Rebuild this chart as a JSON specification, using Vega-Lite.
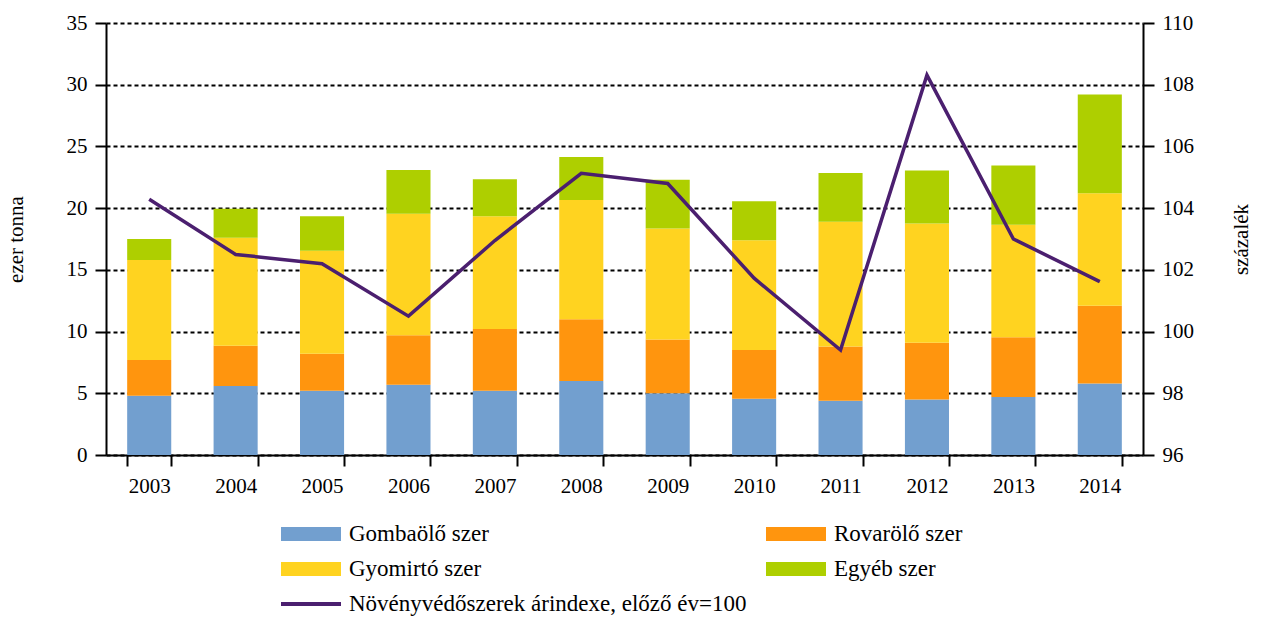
{
  "$schema": "https://vega.github.io/schema/vega-lite/v6.json",
  "autosize": {"type": "none"},
  "padding": {"left": 106, "top": 23, "right": 118, "bottom": 162},
  "width": 1037,
  "height": 432,
  "background": "white",
  "config": {
    "view": {"stroke": null},
    "font": "Times New Roman",
    "axis": {
      "labelFont": "Times New Roman",
      "titleFont": "Times New Roman",
      "labelFontSize": 21,
      "titleFontSize": 21,
      "titleFontWeight": "normal",
      "labelColor": "black",
      "titleColor": "black",
      "domainColor": "black",
      "domainWidth": 2,
      "tickColor": "black",
      "tickWidth": 2,
      "tickSize": 11
    }
  },
  "layer": [
    {
      "data": {
        "values": [
          {"year": "2003", "type": "Gombaölő szer", "rank": 1, "value": 4.8},
          {"year": "2003", "type": "Rovarölő szer", "rank": 2, "value": 2.9},
          {"year": "2003", "type": "Gyomirtó szer", "rank": 3, "value": 8.1},
          {"year": "2003", "type": "Egyéb szer", "rank": 4, "value": 1.7},
          {"year": "2004", "type": "Gombaölő szer", "rank": 1, "value": 5.6},
          {"year": "2004", "type": "Rovarölő szer", "rank": 2, "value": 3.25},
          {"year": "2004", "type": "Gyomirtó szer", "rank": 3, "value": 8.75},
          {"year": "2004", "type": "Egyéb szer", "rank": 4, "value": 2.35},
          {"year": "2005", "type": "Gombaölő szer", "rank": 1, "value": 5.2},
          {"year": "2005", "type": "Rovarölő szer", "rank": 2, "value": 3.0},
          {"year": "2005", "type": "Gyomirtó szer", "rank": 3, "value": 8.35},
          {"year": "2005", "type": "Egyéb szer", "rank": 4, "value": 2.8},
          {"year": "2006", "type": "Gombaölő szer", "rank": 1, "value": 5.7},
          {"year": "2006", "type": "Rovarölő szer", "rank": 2, "value": 4.0},
          {"year": "2006", "type": "Gyomirtó szer", "rank": 3, "value": 9.85},
          {"year": "2006", "type": "Egyéb szer", "rank": 4, "value": 3.55},
          {"year": "2007", "type": "Gombaölő szer", "rank": 1, "value": 5.2},
          {"year": "2007", "type": "Rovarölő szer", "rank": 2, "value": 5.0},
          {"year": "2007", "type": "Gyomirtó szer", "rank": 3, "value": 9.15},
          {"year": "2007", "type": "Egyéb szer", "rank": 4, "value": 3.0},
          {"year": "2008", "type": "Gombaölő szer", "rank": 1, "value": 6.0},
          {"year": "2008", "type": "Rovarölő szer", "rank": 2, "value": 5.0},
          {"year": "2008", "type": "Gyomirtó szer", "rank": 3, "value": 9.65},
          {"year": "2008", "type": "Egyéb szer", "rank": 4, "value": 3.5},
          {"year": "2009", "type": "Gombaölő szer", "rank": 1, "value": 5.0},
          {"year": "2009", "type": "Rovarölő szer", "rank": 2, "value": 4.35},
          {"year": "2009", "type": "Gyomirtó szer", "rank": 3, "value": 9.0},
          {"year": "2009", "type": "Egyéb szer", "rank": 4, "value": 3.95},
          {"year": "2010", "type": "Gombaölő szer", "rank": 1, "value": 4.55},
          {"year": "2010", "type": "Rovarölő szer", "rank": 2, "value": 3.95},
          {"year": "2010", "type": "Gyomirtó szer", "rank": 3, "value": 8.9},
          {"year": "2010", "type": "Egyéb szer", "rank": 4, "value": 3.15},
          {"year": "2011", "type": "Gombaölő szer", "rank": 1, "value": 4.4},
          {"year": "2011", "type": "Rovarölő szer", "rank": 2, "value": 4.4},
          {"year": "2011", "type": "Gyomirtó szer", "rank": 3, "value": 10.1},
          {"year": "2011", "type": "Egyéb szer", "rank": 4, "value": 3.95},
          {"year": "2012", "type": "Gombaölő szer", "rank": 1, "value": 4.5},
          {"year": "2012", "type": "Rovarölő szer", "rank": 2, "value": 4.6},
          {"year": "2012", "type": "Gyomirtó szer", "rank": 3, "value": 9.65},
          {"year": "2012", "type": "Egyéb szer", "rank": 4, "value": 4.3},
          {"year": "2013", "type": "Gombaölő szer", "rank": 1, "value": 4.7},
          {"year": "2013", "type": "Rovarölő szer", "rank": 2, "value": 4.85},
          {"year": "2013", "type": "Gyomirtó szer", "rank": 3, "value": 9.1},
          {"year": "2013", "type": "Egyéb szer", "rank": 4, "value": 4.8},
          {"year": "2014", "type": "Gombaölő szer", "rank": 1, "value": 5.8},
          {"year": "2014", "type": "Rovarölő szer", "rank": 2, "value": 6.3},
          {"year": "2014", "type": "Gyomirtó szer", "rank": 3, "value": 9.1},
          {"year": "2014", "type": "Egyéb szer", "rank": 4, "value": 8.0}
        ]
      },
      "mark": {"type": "bar"},
      "encoding": {
        "x": {
          "field": "year",
          "type": "nominal",
          "scale": {"paddingInner": 0.49, "paddingOuter": 0.245},
          "axis": {
            "title": null,
            "labelAngle": 0,
            "tickBand": "extent",
            "labelPadding": 9,
            "domainWidth": 2
          }
        },
        "y": {
          "field": "value",
          "type": "quantitative",
          "stack": "zero",
          "scale": {"domain": [0, 35], "nice": false},
          "axis": {
            "title": "ezer tonna",
            "values": [0, 5, 10, 15, 20, 25, 30, 35],
            "grid": true,
            "gridColor": "black",
            "gridDash": [4, 3],
            "gridWidth": 2,
            "labelPadding": 8,
            "titlePadding": 40,
            "titleAngle": -90
          }
        },
        "color": {
          "field": "type",
          "type": "nominal",
          "scale": {
            "domain": ["Gombaölő szer", "Rovarölő szer", "Gyomirtó szer", "Egyéb szer", "Növényvédőszerek árindexe, előző év=100"],
            "range": ["#729fcf", "#ff950e", "#ffd320", "#aecf00", "#4b1f6f"]
          },
          "legend": {
            "title": null,
            "orient": "none",
            "direction": "horizontal",
            "legendX": 190,
            "legendY": 496,
            "columns": 2,
            "columnPadding": 19,
            "rowPadding": 8,
            "symbolType": "M-2,-0.467H2V0.467H-2Z",
            "symbolSize": 900,
            "symbolStrokeWidth": 0,
            "labelFont": "Times New Roman",
            "labelFontSize": 23,
            "labelColor": "black",
            "labelOffset": 23,
            "labelLimit": 0,
            "encode": {
              "symbols": {
                "update": {
                  "shape": [
                    {"test": "datum.value === 'Növényvédőszerek árindexe, előző év=100'", "value": "M-2,-0.133H2V0.133H-2Z"},
                    {"value": "M-2,-0.467H2V0.467H-2Z"}
                  ]
                }
              }
            }
          }
        },
        "order": {"field": "rank", "type": "quantitative"}
      }
    },
    {
      "data": {
        "values": [
          {"year": "2003", "index": 104.29},
          {"year": "2004", "index": 102.5},
          {"year": "2005", "index": 102.2},
          {"year": "2006", "index": 100.5},
          {"year": "2007", "index": 102.95},
          {"year": "2008", "index": 105.13},
          {"year": "2009", "index": 104.8},
          {"year": "2010", "index": 101.73},
          {"year": "2011", "index": 99.4},
          {"year": "2012", "index": 108.31},
          {"year": "2013", "index": 103.0},
          {"year": "2014", "index": 101.62}
        ]
      },
      "mark": {"type": "line", "color": "#4b1f6f", "strokeWidth": 3.5},
      "encoding": {
        "x": {"field": "year", "type": "nominal"},
        "y": {
          "field": "index",
          "type": "quantitative",
          "scale": {"domain": [96, 110], "nice": false, "zero": false},
          "axis": {
            "orient": "right",
            "title": "százalék",
            "values": [96, 98, 100, 102, 104, 106, 108, 110],
            "grid": false,
            "labelPadding": 8,
            "titlePadding": 58,
            "titleAngle": -90
          }
        }
      }
    }
  ],
  "resolve": {"scale": {"y": "independent"}}
}
